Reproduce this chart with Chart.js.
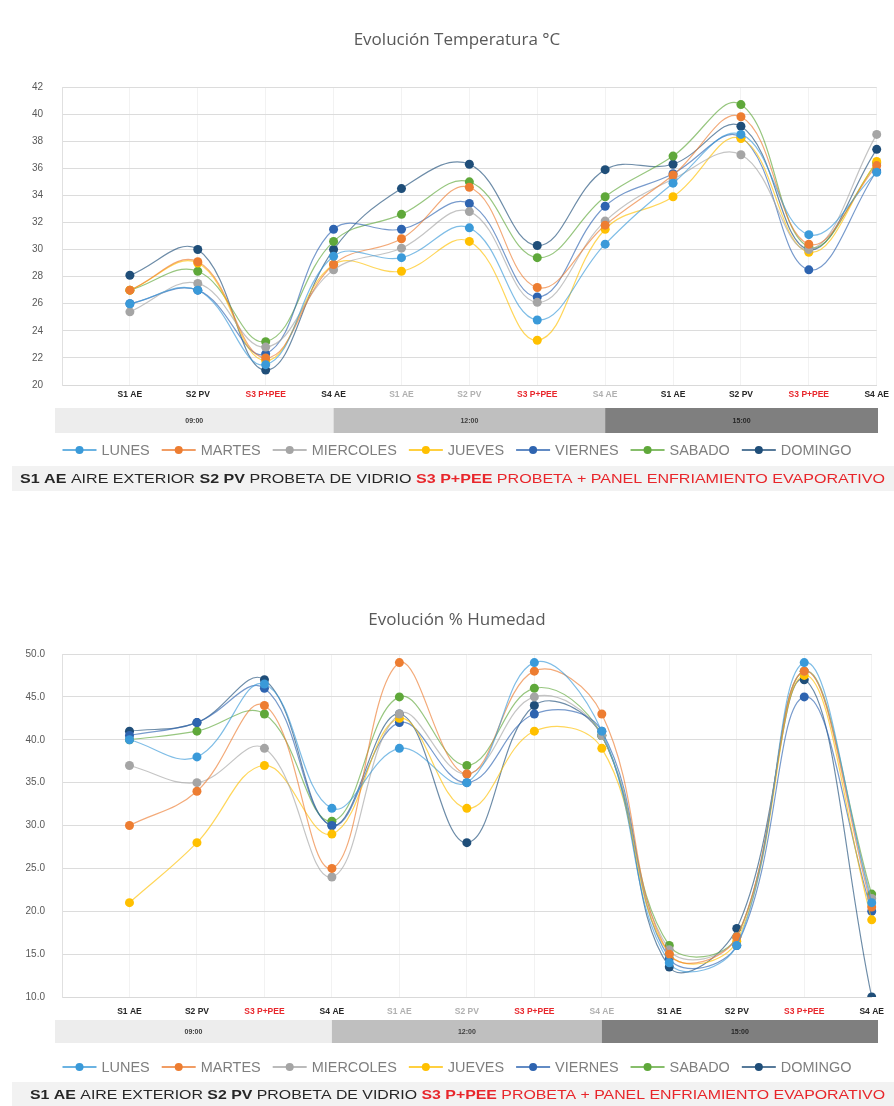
<!DOCTYPE html>
<html>
<head>
<meta charset="utf-8">
<script src="https://cdn.jsdelivr.net/npm/chart.js@4.4.1/dist/chart.umd.min.js"></script>
<style>
  html, body { margin: 0; padding: 0; background: #fff; }
  .box { position: absolute; left: 0; width: 894px; }
</style>
</head>
<body>
<div class="box" style="top:0;height:500px"><canvas id="temp"></canvas></div>
<div class="box" style="top:560px;height:546px"><canvas id="hum"></canvas></div>
<script>
// first slot left empty, the curves start one step in from the axis
const categories = ['', 'S1 AE', 'S2 PV', 'S3 P+PEE', 'S4 AE', 'S1 AE', 'S2 PV', 'S3 P+PEE', 'S4 AE', 'S1 AE', 'S2 PV', 'S3 P+PEE', 'S4 AE'];
const groups = ['09:00', '12:00', '15:00'];
const days = ['LUNES', 'MARTES', 'MIERCOLES', 'JUEVES', 'VIERNES', 'SABADO', 'DOMINGO'];
const dayColors = ['#3a9ad9', '#ed7d31', '#a5a5a5', '#ffc000', '#2e64b0', '#5fa83a', '#1f4e79'];

// temperature °C
const tempLunes     = [null, 26.0, 27.0, 21.5, 29.5, 29.4, 31.6, 24.8, 30.4, 34.9, 38.5, 31.1, 35.7];
const tempMartes    = [null, 27.0, 29.1, 22.0, 28.9, 30.8, 34.6, 27.2, 31.8, 35.5, 39.8, 30.4, 36.2];
const tempMiercoles = [null, 25.4, 27.5, 22.8, 28.5, 30.1, 32.8, 26.1, 32.1, 35.2, 37.0, 30.0, 38.5];
const tempJueves    = [null, 27.0, 29.0, 21.8, 28.9, 28.4, 30.6, 23.3, 31.5, 33.9, 38.2, 29.8, 36.5];
const tempViernes   = [null, 26.0, 27.0, 22.3, 31.5, 31.5, 33.4, 26.5, 33.2, 35.6, 38.3, 28.5, 35.8];
const tempSabado    = [null, 27.0, 28.4, 23.2, 30.6, 32.6, 35.0, 29.4, 33.9, 36.9, 40.7, 30.2, 36.4];
const tempDomingo   = [null, 28.1, 30.0, 21.1, 30.0, 34.5, 36.3, 30.3, 35.9, 36.3, 39.1, 30.0, 37.4];

// humidity %
const humLunes     = [null, 40.0, 38.0, 46.5, 32.0, 39.0, 35.0, 49.0, 41.0, 14.0, 16.0, 49.0, 21.0];
const humMartes    = [null, 30.0, 34.0, 44.0, 25.0, 49.0, 36.0, 48.0, 43.0, 15.0, 17.0, 48.0, 20.5];
const humMiercoles = [null, 37.0, 35.0, 39.0, 24.0, 43.0, 36.0, 45.0, 40.5, 15.5, 17.0, 48.0, 21.5];
const humJueves    = [null, 21.0, 28.0, 37.0, 29.0, 42.5, 32.0, 41.0, 39.0, 15.0, 16.5, 47.5, 19.0];
const humViernes   = [null, 40.5, 42.0, 46.0, 30.0, 42.0, 35.0, 43.0, 41.0, 14.5, 16.0, 45.0, 20.0];
const humSabado    = [null, 40.0, 41.0, 43.0, 30.5, 45.0, 37.0, 46.0, 40.5, 16.0, 17.0, 48.0, 22.0];
const humDomingo   = [null, 41.0, 42.0, 47.0, 30.0, 43.0, 28.0, 44.0, 40.5, 13.5, 18.0, 47.0, 10.0];

const tempSeries = [tempLunes, tempMartes, tempMiercoles, tempJueves, tempViernes, tempSabado, tempDomingo];
const humSeries = [humLunes, humMartes, humMiercoles, humJueves, humViernes, humSabado, humDomingo];

const note = [
  { t: 'S1 AE', b: true, c: '#262626' },
  { t: ' AIRE EXTERIOR ', b: false, c: '#262626' },
  { t: 'S2 PV', b: true, c: '#262626' },
  { t: ' PROBETA DE VIDRIO ', b: false, c: '#262626' },
  { t: 'S3 P+PEE', b: true, c: '#e8262b' },
  { t: ' PROBETA + PANEL ENFRIAMIENTO EVAPORATIVO', b: false, c: '#e8262b' }
];

const GRAY = '#595959';

function hexA(hex, a) {
  const n = parseInt(hex.slice(1), 16);
  return 'rgba(' + (n >> 16) + ',' + ((n >> 8) & 255) + ',' + (n & 255) + ',' + a + ')';
}

// title, band of hours, legend and the note below
const decor = {
  id: 'decor',
  afterDraw(chart, args, o) {
    const ctx = chart.ctx;
    const x = chart.scales.x;
    ctx.save();

    ctx.fillStyle = GRAY;
    ctx.font = '17px "Open Sans"';
    ctx.textAlign = 'center';
    ctx.textBaseline = 'middle';
    ctx.fillText(o.title, 457, o.titleY);

    const bandCols = ['#ededed', '#bfbfbf', '#7f7f7f'];
    groups.forEach((g, i) => {
      const x0 = i === 0 ? 55 : x.getPixelForValue(i * 4);
      const x1 = i === 2 ? 878 : x.getPixelForValue(i * 4 + 4);
      ctx.fillStyle = bandCols[i];
      ctx.fillRect(x0, o.bandTop, x1 - x0, o.bandH);
      ctx.fillStyle = i === 2 ? '#262626' : '#404040';
      ctx.font = 'bold 7px "Liberation Sans"';
      ctx.fillText(g, (x0 + x1) / 2, o.bandTop + o.bandH / 2 + 1);
    });

    // legend
    ctx.font = '14px "Liberation Sans"';
    const widths = days.map(d => ctx.measureText(d).width);
    const sym = 34, gapS = 5, gap = 12, span = 789;
    const sq = (span - days.length * (sym + gapS) - (days.length - 1) * gap) / widths.reduce((a, b) => a + b, 0);
    let lx = 457 - span / 2;
    ctx.textAlign = 'left';
    days.forEach((d, i) => {
      ctx.strokeStyle = dayColors[i];
      ctx.lineWidth = 1.5;
      ctx.beginPath();
      ctx.moveTo(lx, o.legendY);
      ctx.lineTo(lx + sym, o.legendY);
      ctx.stroke();
      ctx.fillStyle = dayColors[i];
      ctx.beginPath();
      ctx.arc(lx + sym / 2, o.legendY, 4, 0, Math.PI * 2);
      ctx.fill();
      lx += sym + gapS;
      ctx.save();
      ctx.translate(lx, o.legendY);
      ctx.scale(sq, 1);
      ctx.fillStyle = '#7f7f7f';
      ctx.fillText(d, 0, 1);
      ctx.restore();
      lx += widths[i] * sq + gap;
    });

    // note line
    ctx.fillStyle = '#f2f2f2';
    ctx.fillRect(12, o.noteTop, 882, o.noteH);
    const fnt = s => (s.b ? 'bold ' : '') + '13px "Liberation Sans"';
    let tot = 0;
    note.forEach(s => { ctx.font = fnt(s); tot += ctx.measureText(s.t).width; });
    const k = (o.noteRight - o.noteLeft) / tot;
    ctx.save();
    ctx.translate(o.noteLeft, o.noteTop + o.noteH / 2 + 1);
    ctx.scale(k, 1);
    let nx = 0;
    note.forEach(s => {
      ctx.font = fnt(s);
      ctx.fillStyle = s.c;
      ctx.fillText(s.t, nx, 0);
      nx += ctx.measureText(s.t).width;
    });
    ctx.restore();
    ctx.restore();
  }
};

function tickColor(c) {
  const lab = categories[c.index] || '';
  if (lab.indexOf('P+PEE') >= 0) return '#e8262b';
  if (c.index >= 5 && c.index <= 8) return '#b0b0b0';
  return '#262626';
}

function makeChart(id, series, y, deco, pad) {
  return new Chart(document.getElementById(id), {
    type: 'line',
    data: {
      labels: categories,
      datasets: series.map((s, i) => ({
        label: days[i],
        data: s,
        borderColor: hexA(dayColors[i], 0.65),
        backgroundColor: dayColors[i],
        borderWidth: 1.2,
        pointRadius: 4.5,
        pointBorderWidth: 0,
        pointHoverRadius: 5,
        tension: 0.4,
        spanGaps: false
      }))
    },
    options: {
      responsive: true,
      maintainAspectRatio: false,
      animation: false,
      layout: { padding: { left: 0, right: 14, top: pad.top, bottom: pad.bottom } },
      plugins: {
        legend: { display: false },
        tooltip: { enabled: false },
        decor: deco
      },
      scales: {
        x: {
          offset: false,
          grid: { color: 'rgba(0,0,0,0.05)', drawTicks: false },
          border: { color: '#d9d9d9' },
          ticks: {
            color: tickColor,
            font: { family: 'Liberation Sans', size: 8.5, weight: 'bold' },
            padding: pad.xPad,
            autoSkip: false,
            maxRotation: 0
          },
          afterFit(s) { s.height = 20; }
        },
        y: {
          min: y.min,
          max: y.max,
          grid: { color: '#dcdcdc', drawTicks: false },
          border: { color: '#e0e0e0' },
          ticks: {
            stepSize: y.step,
            color: GRAY,
            padding: y.pad,
            font: { family: 'Liberation Sans', size: 10 },
            callback: v => y.dec ? v.toFixed(1) : v
          },
          afterFit(s) { s.width = 62; }
        }
      }
    },
    plugins: [decor]
  });
}

makeChart('temp', tempSeries,
  { min: 20, max: 42, step: 2, pad: 19, dec: false },
  { title: 'Evolución Temperatura °C', titleY: 40, bandTop: 408, bandH: 25, legendY: 450,
    noteTop: 466, noteH: 25, noteLeft: 20, noteRight: 885 },
  { top: 87, bottom: 95, xPad: 5 });

makeChart('hum', humSeries,
  { min: 10, max: 50, step: 5, pad: 17, dec: true },
  { title: 'Evolución % Humedad', titleY: 60, bandTop: 460, bandH: 23, legendY: 507,
    noteTop: 522, noteH: 24, noteLeft: 30, noteRight: 885 },
  { top: 94, bottom: 89, xPad: 10 });
</script>
</body>
</html>
